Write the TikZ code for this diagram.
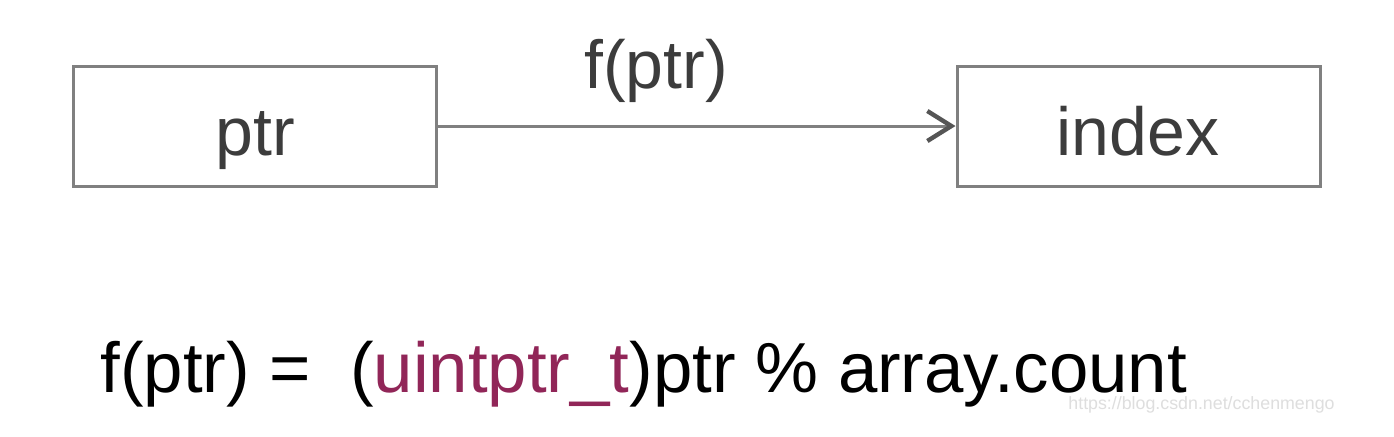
\documentclass[tikz,border=0pt]{standalone}
\usepackage{fontspec}
\setmainfont{Liberation Sans}
\usetikzlibrary{arrows.meta}
\definecolor{boxgray}{RGB}{128,128,128}
\definecolor{tipgray}{RGB}{85,85,85}
\definecolor{labelgray}{RGB}{60,60,60}
\definecolor{typecolor}{RGB}{145,38,88}
\definecolor{markgray}{RGB}{222,222,222}

\begin{document}
\begin{tikzpicture}[x=0.5pt, y=-0.5pt,
	box/.style={draw=boxgray, line width=1.5pt, minimum width=181.5pt, minimum height=60pt, inner sep=0pt},
	label/.style={text=labelgray, font=\fontsize{34}{40}\selectfont, inner sep=0pt, anchor=base},
	formula/.style={text=black, font=\fontsize{35.4}{42}\selectfont, inner sep=0pt, anchor=base west}]
	\useasboundingbox (0,0) rectangle (1394,436);
	\fill[white] (0,0) rectangle (1394,436);
	% the two boxes
	\node[box] (ptr) at (254.5,126) {};
	\node[box] (index) at (1138.5,126) {};
	\node[label] (ptrtext) at (255,155) {ptr};
	\node[label] (indextext) at (1138,155) {index};
	\node[label] (fptr) at (656,88) {f(ptr)};
	\draw[boxgray, line width=1.5pt, -{Straight Barb[length=12pt, width=15pt, line width=2.2pt, color=tipgray]}] (ptr) -- (index);
	% the formula
	\node[formula] (rule) at (100,392) {f(ptr) =\ \ (\textcolor{typecolor}{uintptr\_t})ptr \% array.count};
	\node[text=markgray, font=\fontsize{8.9}{10}\selectfont, inner sep=0pt, anchor=base west] (mark) at (1068,409) {https://blog.csdn.net/cchenmengo};
\end{tikzpicture}
\end{document}
